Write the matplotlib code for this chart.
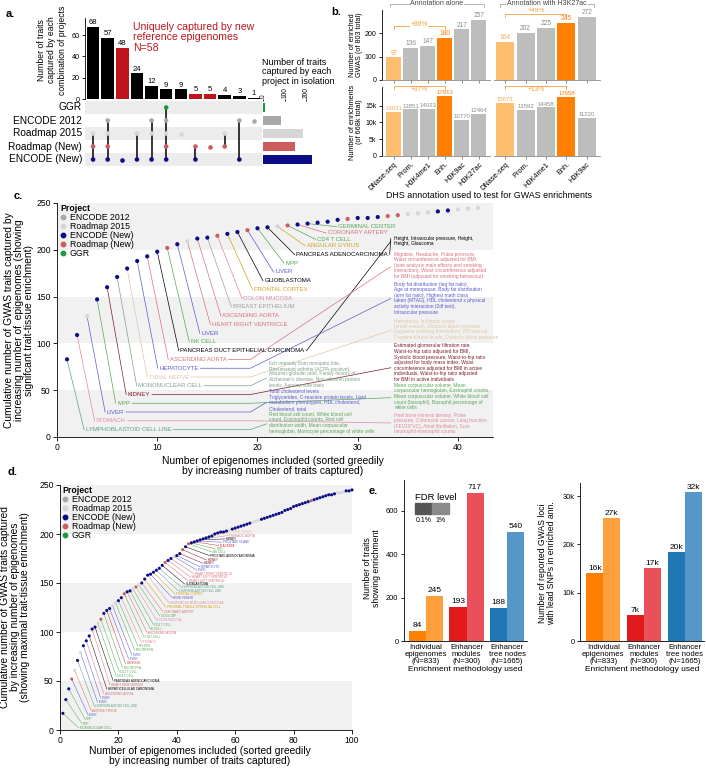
import numpy as np
import matplotlib
matplotlib.use('Agg')
import matplotlib.pyplot as plt
from matplotlib.lines import Line2D
from matplotlib.patches import Rectangle

plt.rcParams['font.family'] = ['Liberation Sans', 'DejaVu Sans']
plt.rcParams['axes.linewidth'] = 0.6
plt.rcParams['xtick.major.width'] = 0.6
plt.rcParams['ytick.major.width'] = 0.6
plt.rcParams['xtick.major.size'] = 2.5
plt.rcParams['ytick.major.size'] = 2.5
plt.rcParams['xtick.major.pad'] = 1.5
plt.rcParams['ytick.major.pad'] = 1.5

# ---------------- data ----------------
# projects (codes: G, E, L, R, N)
projects = ['GGR', 'ENCODE 2012', 'Roadmap 2015', 'Roadmap (New)', 'ENCODE (New)']
project_codes = ['G', 'E', 'L', 'R', 'N']
project_colors = ['#1e9a3a', '#a8a8a8', '#d6d6d6', '#cd5c5c', '#0c0c86']
project_sizes = [9, 82, 183, 148, 226]
legend_order = ['ENCODE 2012', 'Roadmap 2015', 'ENCODE (New)', 'Roadmap (New)', 'GGR']

# a. upset
combo_sizes = [68, 57, 48, 24, 12, 9, 9, 5, 5, 4, 3, 1]
combo_sets = ['LRN', 'ELRN', 'N', 'LN', 'ELN', 'GELRN', 'L', 'RN', 'R', 'LR', 'EN', 'E']

# b. annotations
b_tracks = ['DNase-seq', 'Prom.', 'H3K4me1', 'Enh.', 'H3K9ac', 'H3K27ac']
b_gwas_alone = [97, 136, 147, 180, 217, 257]
b_gwas_k27 = [164, 202, 225, 245, 272]
b_enr_alone = [13021, 13851, 14023, 17913, 10770, 12464]
b_enr_k27 = [15673, 13592, 14458, 17658, 11220]
b_gain = ['+86%', '+49%', '+37%', '+13%']

# c. cumulative traits (significant enrichment)
c_y = [83, 109, 129, 147, 160, 171, 180, 188, 193, 198,
       202, 206, 209, 212, 213, 215, 217, 219, 221, 223,
       224, 225, 226, 227, 228, 229, 230, 232, 233, 234,
       234, 235, 236, 237, 238, 239, 240, 241, 242, 243,
       244, 245]
c_proj = "NNLNNNNNNN" "RNLNNRNNRN" "NLRNNNNNRN" "NNRRLLLNNL" "LL"
c_labels = ['LYMPHOBLASTOID CELL LINE', 'STOMACH', 'LIVER', 'MPP', 'KIDNEY',
            'MONONUCLEAR CELL', 'TIBIAL NERVE', 'HEPATOCYTE', 'ASCENDING AORTA',
            'PANCREAS DUCT EPITHELIAL CARCINOMA', 'NK CELL', 'LIVER',
            'HEART RIGHT VENTRICLE', 'ASCENDING AORTA', 'BREAST EPITHELIUM',
            'COLON MUCOSA', 'FRONTAL CORTEX', 'GLIOBLASTOMA', 'LIVER', 'MPP',
            'PANCREAS ADENOCARCINOMA', 'ANGULAR GYRUS', 'CD4 T CELL',
            'CORONARY ARTERY', 'GERMINAL CENTER']
tissue_pal = {'blood': '#58a858', 'lcl': '#5aa08a', 'liver': '#5a5ad0', 'heart': '#d8707f',
              'cancer': 'black', 'kidney': '#7d1d2d', 'brain': '#d4a017', 'nerve': '#e2c6a6',
              'gi': '#e08a9c', 'placenta': '#d03030', 'fat': '#e07050', 'gray': '#a0a0a0',
              'mono': '#7fa08a', 'colon': '#d98ab0'}
c_groups = ['lcl', 'gi', 'liver', 'blood', 'kidney', 'mono', 'nerve', 'liver', 'heart',
            'cancer', 'blood', 'liver', 'heart', 'heart', 'gray', 'colon', 'brain',
            'cancer', 'liver', 'blood', 'cancer', 'brain', 'blood', 'heart', 'blood']

c_traits_right = [
    "Height, Intraocular pressure, Height,\nHeight, Glaucoma",
    "Migraine, Headache, Pulse pressure,\nWaist circumference adjusted for BMI\n(joint analysis main effects and smoking\ninteraction), Waist circumference adjusted\nfor BMI (adjusted for smoking behaviour)",
    "Body fat distribution (leg fat ratio),\nAge at menopause, Body fat distribution\n(arm fat ratio), Highest math class\ntaken (MTAG), HDL cholesterol x physical\nactivity interaction (2df test),\nIntraocular pressure",
    "Hematocrit, Ischemic stroke\n(small-vessel), Diastolic blood pressure\n(cigarette smoking interaction), PR interval,\nCreatine kinase levels, Diastolic blood pressure",
    "Estimated glomerular filtration rate,\nWaist-to-hip ratio adjusted for BMI,\nSystolic blood pressure, Waist-to-hip ratio\nadjusted for body mass index, Waist\ncircumference adjusted for BMI in active\nindividuals, Waist-to-hip ratio adjusted\nfor BMI in active individuals",
    "Mean corpuscular volume, Mean\ncorpuscular hemoglobin, Eosinophil counts,\nMean corpuscular volume, White blood cell\ncount (basophil), Basophil percentage of\nwhite cells",
    "Heel bone mineral density, Pulse\npressure, Colorectal cancer, Lung function\n(FEV1/FVC), Atrial fibrillation, Sum\nneutrophil eosinophil counts",
]
c_traits_right_src = [9, 8, 7, 6, 4, 3, 1]
c_traits_mid = [
    "Itch intensity from mosquito bite,\nRheumatoid arthritis (ACPA-positive),",
    "Albumin-globulin ratio, Family history of\nAlzheimer's disease, Non-albumin protein\nlevels, Autoimmune traits",
    "Total cholesterol levels",
    "Triglycerides, C-reactive protein levels, Lipid\nmetabolism phenotypes, HDL cholesterol,\nCholesterol, total",
    "Red blood cell count, White blood cell\ncount, Eosinophil counts, Red cell\ndistribution width, Mean corpuscular\nhemoglobin, Monocyte percentage of white cells",
]
c_traits_mid_groups = ['mono', 'mono', 'liver', 'liver', 'blood']
c_traits_mid_src = [None, 5, None, 2, 0]

# d. cumulative traits (maximal enrichment)
d_y = [17, 31, 42, 52, 61, 71, 79, 86, 91, 96,
       103, 105, 109, 113, 119, 122, 124, 127, 130, 132,
       135, 139, 141, 142, 144, 146, 148, 150, 154, 158,
       159, 161, 163, 165, 168, 171, 173, 175, 177, 178,
       180, 184, 187, 190, 191, 192, 193, 194, 195, 196,
       197, 198, 200, 201, 202, 202, 203, 204, 205, 206,
       207, 208, 209, 210, 211, 212, 213, 214, 215, 216,
       217, 218, 219, 220, 221, 222, 224, 225, 226, 228,
       229, 230, 231, 232, 233, 234, 235, 236, 237, 238,
       239, 240, 240, 241, 242, 242, 243, 244, 244, 245]
d_proj = ("NNNRLNLNNN" "NNLRNNNLLN" "NRNNLRLNNN" "NNNNNRNNLN" "NRNRNNNNNN"
          "NNNNNNNLNN" "NNNNNLLLNN" "NNNNNNNNNN" "NNNNNRNNNN" "NNNNLLLNNN")
d_labels = ['MONONUCLEAR CELL', 'MPP', 'MPP', 'LIVER', 'ADIPOSE TISSUE',
            'LYMPHOBLASTOID CELL LINE', 'LIVER', 'LIVER', 'ASCENDING AORTA',
            'HEPATOCELLULAR CARCINOMA', 'HEART RIGHT ATRIUM', 'PANCREAS ADENOCARCINOMA',
            'CD4 T CELL', 'CD4 T CELL', 'NEUTROPHIL', 'CHORION', 'LIVER', 'LIVER',
            'NEUTROPHIL', 'SPLEEN', 'STOMACH', 'TH17 CELL', 'ASCENDING AORTA', 'B CELL',
            'CD4 T CELL', 'COLON MUCOSA', 'CD34 CMP', 'CORONARY ARTERY',
            'PROXIMAL TUBULE EPITHELIAL CELL', 'ESOPHAGUS MUSCULARIS MUCOSA',
            'BONE FEMUR', 'FRONTAL CORTEX', 'LYMPHOBLASTOID CELL LINE',
            'LYMPHOBLASTOID CELL LINE', 'GLIOBLASTOMA', 'HEART LEFT VENTRICLE',
            'HEART LEFT VENTRICLE', 'HEART RIGHT VENTRICLE', 'LIVER', 'HEPATOCYTE',
            'KIDNEY', 'KIDNEY', 'PROSTATE ADENOCARCINOMA', 'NK CELL', 'MPP', 'PLACENTA',
            'PROSTATE GLAND', 'KIDNEY', 'THORACIC AORTA', 'TIBIAL NERVE']
d_groups = ['blood', 'blood', 'blood', 'liver', 'fat', 'lcl', 'liver', 'liver', 'heart',
            'cancer', 'heart', 'cancer', 'blood', 'blood', 'blood', 'placenta', 'liver',
            'liver', 'blood', 'blood', 'gi', 'blood', 'heart', 'blood', 'blood', 'colon',
            'blood', 'heart', 'brain', 'gi', 'liver', 'brain', 'lcl', 'lcl', 'cancer',
            'heart', 'heart', 'heart', 'liver', 'liver', 'kidney', 'kidney', 'cancer',
            'blood', 'blood', 'placenta', 'liver', 'cancer', 'heart', 'nerve']

# e. methods
e_methods = ['Individual\nepigenomes\n(N=833)', 'Enhancer\nmodules\n(N=300)',
             'Enhancer\ntree nodes\n(N=1665)']
e_traits_strict = [46, 157, 152]
e_traits_loose = [208, 683, 503]
e_traits_strict_lab = ['84', '193', '188']
e_traits_loose_lab = ['245', '717', '540']
e_loci_strict = [14000, 5300, 18400]
e_loci_loose = [25400, 15100, 30800]
e_loci_strict_lab = ['16k', '7k', '20k']
e_loci_loose_lab = ['27k', '17k', '32k']
e_dark = ['#ff7f00', '#e31a1c', '#1f78b4']
e_light = ['#ffa03c', '#e9505a', '#5697c9']

# ---------------- figure ----------------
W, H = 706, 768
fig = plt.figure(figsize=(W / 100, H / 100), dpi=100)


def rect(x0, y0, x1, y1):
    return [x0 / W, 1 - y1 / H, (x1 - x0) / W, (y1 - y0) / H]


def ftext(x, y, s, **kw):
    return fig.text(x / W, 1 - y / H, s, **kw)


def fline(xp, yp, **kw):
    fig.add_artist(Line2D([x / W for x in xp], [1 - y / H for y in yp],
                          transform=fig.transFigure, **kw))


pcol = dict(zip(project_codes, project_colors))

# ---- a ----
axa = fig.add_axes(rect(85, 18, 262, 99))
xs = np.arange(len(combo_sizes))
is_new = [set(c) <= {'R', 'N'} for c in combo_sets]
axa.bar(xs, combo_sizes, width=0.86, color=['#c0141c' if n else 'black' for n in is_new])
for x, v in zip(xs, combo_sizes):
    axa.text(x, v + 0.8, str(v), ha='center', va='bottom', fontsize=5.5)
axa.set_xlim(-0.55, len(combo_sizes) - 0.45)
axa.set_ylim(0, 76)
axa.set_yticks([0, 20, 40, 60])
axa.tick_params(axis='y', labelsize=5.2, length=2)
axa.set_xticks([])
for s in ['top', 'right', 'bottom']:
    axa.spines[s].set_visible(False)
ftext(52, 50, "Number of traits\ncaptured by each\ncombination of projects", rotation=90,
      ha='center', va='center', fontsize=6.2)
ftext(133, 22, "Uniquely captured by new\nreference epigenomes\nN=58", color='#c0141c',
      fontsize=7.6, va='top', linespacing=1.05)

axm = fig.add_axes(rect(85, 101, 262, 166))
axm.set_xlim(axa.get_xlim())
axm.set_ylim(4.5, -0.5)
for r in (0, 2, 4):
    axm.axhspan(r - 0.5, r + 0.5, color='#ececec', lw=0, zorder=0)
for x, c in zip(xs, combo_sets):
    rows = [project_codes.index(k) for k in c]
    if len(rows) > 1:
        axm.plot([x, x], [min(rows), max(rows)], color='black', lw=1.1, zorder=1)
    axm.scatter([x] * len(rows), rows, s=11, c=[project_colors[r] for r in rows],
                lw=0, zorder=2)
axm.axis('off')
for r, p in enumerate(projects):
    axm.text(-0.75, r, p, ha='right', va='center', fontsize=7.3)

axs = fig.add_axes(rect(263, 101, 330, 166))
axs.barh(range(5), project_sizes, height=0.72, color=project_colors)
axs.set_ylim(4.5, -0.5)
axs.set_xlim(0, 310)
axs.xaxis.tick_top()
axs.set_xticks([0, 100, 200])
axs.set_xticklabels(['0', '100', '200'], rotation=90, fontsize=4.8)
axs.tick_params(axis='x', length=1.5, pad=0.5)
axs.set_yticks([])
for s in axs.spines.values():
    s.set_visible(False)
ftext(262, 58, "Number of traits\ncaptured by each\nproject in isolation", va='top',
      fontsize=6.5, linespacing=1.05)
ftext(6, 14, "a.", fontsize=8, fontweight='bold', va='center')

# ---- b ----
track_col = {'DNase-seq': '#fdbf6f', 'Enh.': '#ff7f00'}
text_col = {'DNase-seq': '#f4aa55', 'Enh.': '#ff7f00'}


def b_axes(box, vals, top, xlim, yticks, yticklabels, left, bottom_row, gain, br_y, txt_y,
           boxed):
    ax = fig.add_axes(rect(*box))
    x = np.arange(len(vals))
    names = b_tracks[:len(vals)]
    ax.bar(x, vals, width=0.88, color=[track_col.get(n, '#bdbdbd') for n in names])
    for xi, v, n in zip(x, vals, names):
        ax.text(xi, v + top * 0.012, str(v), ha='center', va='bottom',
                fontsize=4.3 if bottom_row else 4.8, color=text_col.get(n, '#8c8c8c'))
    ax.set_xlim(*xlim)
    ax.set_ylim(0, top)
    ax.set_xticks(x)
    if bottom_row:
        ax.set_xticklabels(names, rotation=45, ha='right', rotation_mode='anchor', fontsize=5.3)
    else:
        ax.set_xticklabels([])
    ax.tick_params(axis='x', length=2, color='#777777')
    for s in ['top', 'right']:
        ax.spines[s].set_visible(False)
    ax.spines['bottom'].set_color('#888888')
    if left:
        ax.set_yticks(yticks)
        ax.set_yticklabels(yticklabels, fontsize=5)
    else:
        ax.set_yticks([])
        ax.spines['left'].set_visible(False)
    tick = top * 0.045
    ax.plot([0, 0, 3, 3], [br_y - tick, br_y, br_y, br_y - tick], color='#f5a040',
            lw=0.6, clip_on=False)
    bb = dict(facecolor='white', edgecolor='none', pad=0.3) if boxed else None
    ax.text(1.5, txt_y, gain, ha='center', va='center', fontsize=4.8, color='#f5a040',
            bbox=bb)
    return ax


b_axes((382, 10, 490, 80), b_gwas_alone, 300, (-0.7, 5.65), [0, 100, 200],
       ['0', '100', '200'], True, False, b_gain[0], 230, 236, True)
b_axes((494, 10, 600, 80), b_gwas_k27, 300, (-0.55, 4.65), [], [], False, False,
       b_gain[1], 284, 298, False)
b_axes((382, 87, 490, 156), b_enr_alone, 20500, (-0.7, 5.65), [0, 5000, 10000, 15000],
       ['0', '5k', '10k', '15k'], True, True, b_gain[2], 20900, 19700, False)
b_axes((494, 87, 600, 156), b_enr_k27, 20500, (-0.55, 4.65), [], [], False, True,
       b_gain[3], 20900, 19700, False)

for (x0, x1), txt in zip([(390, 484), (500, 594)],
                         ["Annotation alone", "Annotation with H3K27ac"]):
    fline([x0, x0, x1, x1], [7, 3.5, 3.5, 7], color='#999999', lw=0.5)
    ftext((x0 + x1) / 2, 3.5, txt, ha='center', va='center', fontsize=5,
          color='#444444', bbox=dict(facecolor='white', edgecolor='none', pad=0.5))
ftext(356, 45, "Number of enriched\nGWAS (of 803 total)", rotation=90, ha='center',
      va='center', fontsize=5.2, linespacing=1.05)
ftext(356, 122, "Number of enrichments\n(of 668k total)", rotation=90, ha='center',
      va='center', fontsize=5.2, linespacing=1.05)
ftext(489, 196, "DHS annotation used to test for GWAS enrichments", ha='center',
      va='center', fontsize=6.4)
ftext(331, 12, "b.", fontsize=8, fontweight='bold', va='center')


# ---- c / d shared ----
def cum_axes(box, xmax, xticks):
    ax = fig.add_axes(rect(*box))
    ax.set_xlim(0, xmax)
    ax.set_ylim(0, 250)
    for lo in (0, 100, 200):
        ax.axhspan(lo, lo + 50, color='#f1f1f1', lw=0, zorder=0)
    for s in ['top', 'right']:
        ax.spines[s].set_visible(False)
    ax.set_xticks(xticks)
    ax.set_yticks([0, 50, 100, 150, 200, 250])
    ax.tick_params(labelsize=6.2, length=3)
    handles = [Line2D([], [], ls='none', marker='o', ms=3.2,
                      color=project_colors[projects.index(p)], label=p) for p in legend_order]
    ax.legend(handles=handles, title='Project', loc='upper left', bbox_to_anchor=(0.005, 1.0),
              frameon=False, fontsize=6.3, title_fontproperties={'weight': 'bold', 'size': 6.3},
              labelspacing=0.0, handlelength=0.6, handletextpad=0.5, borderpad=0.1,
              borderaxespad=0, alignment='left')
    return ax


# ---- c ----
axc = cum_axes((57, 203, 493, 437), 43.5, [0, 10, 20, 30, 40])
cx = np.arange(1, len(c_y) + 1)
k = np.arange(len(c_labels))
c_lab_y = 8 + 9.35 * np.minimum(k, 21) + 6.8 * np.maximum(k - 21, 0)
c_lab_x = 1.05 * cx[:len(c_labels)] + 1.8
c_texts = []
for i in range(len(c_labels)):
    col = tissue_pal[c_groups[i]]
    axc.plot([cx[i], c_lab_x[i] - 0.15], [c_y[i], c_lab_y[i]], color=col, lw=0.5, zorder=1)
    c_texts.append(axc.text(c_lab_x[i], c_lab_y[i], c_labels[i], fontsize=4.3, color=col,
                            ha='left', va='center', zorder=3))
axc.scatter(cx, c_y, s=9, c=[pcol[p] for p in c_proj], lw=0, zorder=4, clip_on=False)

right_x, mid_x = 33.6, 21.2
right_tops = [215, 198, 166, 127, 100, 58, 26]
right_link_y = [209, 182, 148, 114, 74, 42, 15]
mid_tops = [81, 70, 51, 45, 27]
mid_link_y = [None, 63, None, 37, 14]
for txt, top, src in zip(c_traits_right, right_tops, c_traits_right_src):
    axc.text(right_x, top, txt, fontsize=3.5, va='top', ha='left', linespacing=1.15,
             color=tissue_pal[c_groups[src]], zorder=3)
for txt, top, g in zip(c_traits_mid, mid_tops, c_traits_mid_groups):
    axc.text(mid_x, top, txt, fontsize=3.5, va='top', ha='left', linespacing=1.15,
             color=tissue_pal[g], zorder=3)

fig.canvas.draw()
rend = fig.canvas.get_renderer()
inv = axc.transData.inverted()


def label_end(t):
    bb = t.get_window_extent(rend)
    return inv.transform((bb.x1, bb.y0))[0]


for src, ty in zip(c_traits_right_src, right_link_y):
    col = tissue_pal[c_groups[src]]
    xe = label_end(c_texts[src]) + 0.2
    ly = c_lab_y[src]
    if xe < 19.3:
        axc.plot([xe, 19.3, right_x - 0.3], [ly, ly, ty], color=col, lw=0.5, zorder=2)
    else:
        axc.plot([xe, right_x - 0.3], [ly, ty], color=col, lw=0.5, zorder=2)
for src, ty in zip(c_traits_mid_src, mid_link_y):
    if src is None:
        continue
    col = tissue_pal[c_groups[src]]
    xe = label_end(c_texts[src]) + 0.2
    ly = c_lab_y[src]
    axc.plot([xe, 19.3, mid_x - 0.3], [ly, ly, ty], color=col, lw=0.5, zorder=2)
# PANCREAS ADENOCARCINOMA also links to the height block
axc.plot([label_end(c_texts[20]) + 0.2, right_x - 0.3], [c_lab_y[20], 212], color='black',
         lw=0.5, zorder=2)

ftext(19, 320, "Cumulative number of GWAS traits captured by\nincreasing number of  epigenomes (showing\nsignifcant trait-tissue enrichment)",
      rotation=90, ha='center', va='center', fontsize=7.4, linespacing=1.0)
ftext(273, 456, "Number of epigenomes included (sorted greedily\nby increasing number of traits captured)",
      ha='center', va='top', fontsize=7.4, linespacing=1.0)
ftext(14, 196, "c.", fontsize=8, fontweight='bold', va='center')

# ---- d ----
axd = cum_axes((60, 485, 352, 730), 100, [0, 20, 40, 60, 80, 100])
dx = np.arange(1, len(d_y) + 1)
d_lab_y = np.concatenate([2 + 4.4 * np.arange(30), 135 + 3.5 * np.arange(12),
                          178 + 3.4 * np.arange(8)])
d_lab_x = 1.065 * dx[:len(d_labels)] + 5.7
for i in range(len(d_labels)):
    col = tissue_pal[d_groups[i]]
    axd.plot([dx[i], d_lab_x[i] - 0.3], [d_y[i], d_lab_y[i]], color=col, lw=0.35, zorder=1)
    axd.text(d_lab_x[i], d_lab_y[i], d_labels[i], fontsize=2.2, color=col, ha='left',
             va='center', zorder=3)
axd.scatter(dx, d_y, s=5, c=[pcol[p] for p in d_proj], lw=0, zorder=4, clip_on=False)
ftext(15, 607, "Cumulative number of GWAS traits captured\nby increasing number of epigenomes\n(showing maximal trait-tissue enrichment)",
      rotation=90, ha='center', va='center', fontsize=7.4, linespacing=1.0)
ftext(200, 746, "Number of epigenomes included (sorted greedily\nby increasing number of traits captured)",
      ha='center', va='top', fontsize=7.4, linespacing=1.0)
ftext(8, 472, "d.", fontsize=8, fontweight='bold', va='center')


# ---- e ----
def e_axes(box, strict, loose, slab, llab, top, yticks, yticklabels, xlim, pad):
    ax = fig.add_axes(rect(*box))
    g = np.arange(len(e_methods))
    ax.bar(g - 0.21, strict, width=0.42, color=e_dark)
    ax.bar(g + 0.21, loose, width=0.42, color=e_light)
    for gi in g:
        ax.text(gi - 0.21, strict[gi] + pad, slab[gi], ha='center', va='bottom', fontsize=6)
        ax.text(gi + 0.21, loose[gi] + pad, llab[gi], ha='center', va='bottom', fontsize=6)
    ax.set_xlim(*xlim)
    ax.set_ylim(0, top)
    ax.set_xticks(g)
    ax.set_xticklabels(e_methods, fontsize=5.6, linespacing=1.0)
    ax.tick_params(axis='x', length=0, pad=2)
    ax.set_yticks(yticks)
    ax.set_yticklabels(yticklabels, fontsize=5.4)
    for s in ['top', 'right']:
        ax.spines[s].set_visible(False)
    ax.set_xlabel('Enrichment methodology used', fontsize=6, labelpad=1)
    return ax


e_axes((404, 480, 527, 641), e_traits_strict, e_traits_loose, e_traits_strict_lab,
       e_traits_loose_lab, 743, [0, 200, 400, 600], ['0', '200', '400', '600'],
       (-0.54, 2.49), 8)
e_axes((580, 483, 704, 641), e_loci_strict, e_loci_loose, e_loci_strict_lab,
       e_loci_loose_lab, 32700, [0, 10000, 20000, 30000], ['0', '10k', '20k', '30k'],
       (-0.57, 2.47), 300)
ftext(372, 568, "Number of traits\nshowing enrichment", rotation=90, ha='center',
      va='center', fontsize=6.2, linespacing=1.05)
ftext(547, 563, "Number of reported GWAS loci\nwith lead SNPs in enriched ann.", rotation=90,
      ha='center', va='center', fontsize=6.2, linespacing=1.05)
ftext(415, 497, "FDR level", fontsize=6.8, va='center')
fig.add_artist(Rectangle((415 / W, 1 - 514 / H), 17 / W, 11 / H, color='#555555',
                         transform=fig.transFigure))
fig.add_artist(Rectangle((432 / W, 1 - 514 / H), 17 / W, 11 / H, color='#8a8a8a',
                         transform=fig.transFigure))
ftext(423.5, 521, "0.1%", fontsize=5, ha='center', va='center')
ftext(440.5, 521, "1%", fontsize=5, ha='center', va='center')
ftext(369, 491, "e.", fontsize=8, fontweight='bold', va='center')

fig.savefig('out.png', dpi=100)
